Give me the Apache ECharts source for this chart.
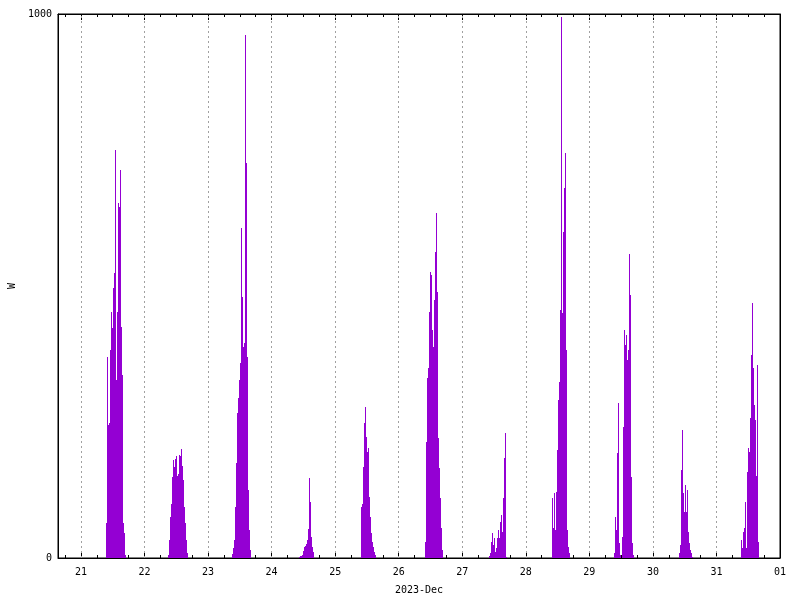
<!DOCTYPE html>
<html>
<head>
<meta charset="utf-8">
<script src="https://cdn.jsdelivr.net/npm/echarts@6/dist/echarts.min.js"></script>
<style>html,body{margin:0;padding:0;background:#fff}#c{width:800px;height:600px}</style>
</head>
<body>
<div id="c"></div>
<script>
// ---- data ----
const tickLabels = ['21','22','23','24','25','26','27','28','29','30','31','01'];
const tickDates  = ['2023-12-21','2023-12-22','2023-12-23','2023-12-24','2023-12-25','2023-12-26',
                    '2023-12-27','2023-12-28','2023-12-29','2023-12-30','2023-12-31','2024-01-01'];
const xRange = ['2023-12-20 15:20', '2024-01-01 00:00'];
const yTicks = [0, 1000];
const stepMinutes = 22.6;
const dayDates  = ['2023-12-21','2023-12-22','2023-12-23','2023-12-24','2023-12-25','2023-12-26',
                   '2023-12-27','2023-12-28','2023-12-29','2023-12-30','2023-12-31'];
const dayStarts = ['09:25','08:49','08:57','10:13','09:36','09:45','10:15','10:00','09:23','09:54','09:17'];
const p21 = [64,370,245,248,382,452,423,496,524,750,327,452,652,645,713,425,336,64,46,5];
const p22 = [5,33,75,100,149,180,168,182,187,150,155,190,188,200,170,143,94,64,33,9];
const p23 = [8,18,33,94,175,266,294,327,358,607,480,388,395,961,726,370,125,51,15];
const p24 = [2,4,3,6,12,20,22,26,33,53,147,103,39,20,11];
const p25 = [94,100,168,248,278,222,195,202,112,75,46,29,20,11,6];
const p26 = [29,213,331,349,452,526,520,461,419,388,474,562,634,489,221,165,110,55,15];
const p27 = [3,9,29,46,24,37,11,18,37,51,37,66,79,48,110,184,230,2];
const p28 = [110,55,119,51,121,199,290,323,456,994,450,600,680,744,382,51,20,9];
const p29 = [9,75,51,193,285,27,5,0,39,241,419,392,410,364,382,559,483,149,27,5];
const p30 = [9,24,162,235,119,85,134,85,125,48,27,15,9,2];
const p31 = [33,18,48,55,103,18,158,202,195,257,373,469,349,281,254,150,355,30];
const dayPower = [p21,p22,p23,p24,p25,p26,p27,p28,p29,p30,p31];

// ---- helpers ----
const ORIGIN = Date.UTC(2023, 11, 21);
function toDays(s) {
  const [d, t] = s.split(' ');
  const [Y, M, D] = d.split('-').map(Number);
  const [h, m] = (t || '00:00').split(':').map(Number);
  return (Date.UTC(Y, M - 1, D, h, m) - ORIGIN) / 86400000;
}
const X_MIN = toDays(xRange[0]);
const X_MAX = toDays(xRange[1]);
const majors = tickDates.map(d => toDays(d));
const minors = [];
for (let i = -1; i < majors.length - 1; i++) {
  const base = i < 0 ? majors[0] - 1 : majors[i];
  [0.25, 0.5, 0.75].forEach(f => { const v = base + f; if (v > X_MIN && v < X_MAX) minors.push(v); });
}
const data = [];
dayDates.forEach((d, i) => {
  const t0 = toDays(d + ' ' + dayStarts[i]);
  dayPower[i].forEach((v, k) => data.push([t0 + k * stepMinutes / 1440, v]));
});
function labelFor(v) {
  let best = 0;
  majors.forEach((m, i) => { if (Math.abs(m - v) < Math.abs(majors[best] - v)) best = i; });
  return tickLabels[best];
}

const FONT = 'DejaVu Sans Mono';
const txt = { color: '#000', fontFamily: FONT, fontSize: 10 };
const common = { type: 'value', min: X_MIN, max: X_MAX, gridIndex: 0, splitLine: { show: false } };
const lineOn = { show: true, onZero: false, lineStyle: { color: '#000', width: 1 } };
const lineOff = { show: false, onZero: false };

const chart = echarts.init(document.getElementById('c'), null, { renderer: 'canvas' });
chart.setOption({
  animation: false,
  backgroundColor: '#fff',
  grid: { left: 58, right: 20, top: 14, bottom: 42, show: true, borderColor: '#000', borderWidth: 1,
          backgroundColor: 'transparent', containLabel: false, outerBoundsMode: 'none' },
  xAxis: [
    Object.assign({}, common, {
      position: 'bottom',
      axisLine: lineOn,
      axisTick: { show: true, inside: true, length: 6, customValues: majors, lineStyle: { color: '#000' } },
      axisLabel: Object.assign({ show: true, customValues: majors, formatter: v => labelFor(v), margin: 9 }, txt),
      name: '2023-Dec', nameLocation: 'middle', nameGap: 27, nameTextStyle: txt
    }),
    Object.assign({}, common, {
      position: 'bottom',
      axisLine: lineOff,
      axisTick: { show: true, inside: true, length: 3, customValues: minors, lineStyle: { color: '#000' } },
      axisLabel: { show: false }
    }),
    Object.assign({}, common, {
      position: 'top',
      axisLine: lineOn,
      axisTick: { show: true, inside: true, length: 6, customValues: majors, lineStyle: { color: '#000' } },
      axisLabel: { show: false }
    }),
    Object.assign({}, common, {
      position: 'top',
      axisLine: lineOff,
      axisTick: { show: true, inside: true, length: 3, customValues: minors, lineStyle: { color: '#000' } },
      axisLabel: { show: false }
    })
  ],
  yAxis: [
    {
      type: 'value', min: yTicks[0], max: yTicks[1], interval: yTicks[1] - yTicks[0], position: 'left',
      axisLine: lineOn,
      axisTick: { show: true, inside: true, length: 6, lineStyle: { color: '#000' } },
      axisLabel: Object.assign({ margin: 6, formatter: v => String(v) }, txt),
      splitLine: { show: false },
      name: 'W', nameLocation: 'middle', nameRotate: 90, nameGap: 40, nameTextStyle: txt
    },
    {
      type: 'value', min: yTicks[0], max: yTicks[1], interval: yTicks[1] - yTicks[0], position: 'right',
      axisLine: lineOn,
      axisTick: { show: true, inside: true, length: 6, lineStyle: { color: '#000' } },
      axisLabel: { show: false },
      splitLine: { show: false }
    }
  ],
  series: [{
    type: 'custom',
    xAxisIndex: 0, yAxisIndex: 0,
    data: data,
    silent: true,
    renderItem: function (params, api) {
      const top = api.coord([api.value(0), api.value(1)]);
      const base = api.coord([api.value(0), 0]);
      const x = Math.round(top[0]);
      const yTop = Math.round(top[1]);
      const yBase = Math.round(base[1]);
      return {
        type: 'rect',
        shape: { x: x, y: yTop, width: 1, height: Math.max(0, yBase - yTop) },
        style: { fill: '#9400d3' }
      };
    },
    markLine: {
      silent: true, symbol: 'none', label: { show: false },
      lineStyle: { color: '#a0a0a0', width: 1, type: [2, 3] },
      data: majors.filter(v => v > X_MIN && v < X_MAX).map(v => ({ xAxis: v }))
    }
  }]
});
</script>
</body>
</html>
